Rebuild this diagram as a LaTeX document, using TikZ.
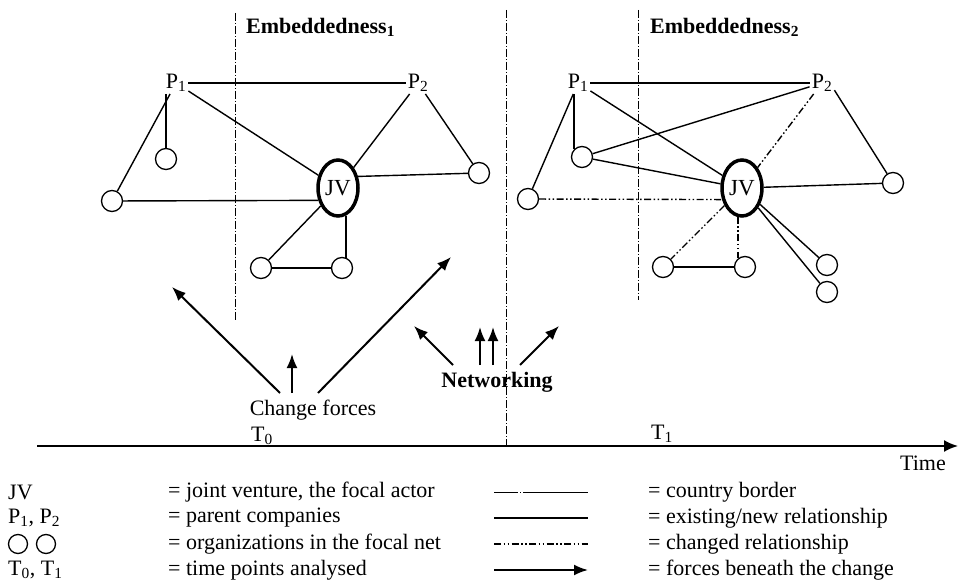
\documentclass[tikz,border=0pt]{standalone}
\usepackage{fontspec}
\setmainfont{Liberation Serif}
\usetikzlibrary{arrows.meta,shapes.geometric}

\begin{document}
\begin{tikzpicture}[x=1pt,y=-1pt,
  every node/.style={font=\fontsize{22}{24}\selectfont, inner sep=0pt},
  org/.style={circle, draw, line width=1.3pt, minimum size=21pt},
  legorg/.style={circle, draw, line width=1.3pt, minimum size=19pt},
  focal/.style={ellipse, draw, line width=3.5pt, minimum width=40pt, minimum height=56pt,
    font=\fontsize{23}{24}\selectfont},
  parent/.style={inner sep=2pt},
  rel/.style={line width=1.4pt},
  chg/.style={line width=1.4pt, dash pattern=on 7pt off 2.5pt on 1.5pt off 2.5pt on 1.5pt off 2.5pt},
  border/.style={line width=0.8pt, dash pattern=on 8pt off 2pt on 1pt off 2pt},
  force/.style={line width=2pt, -{Latex[length=14pt,width=11pt]}},
  leftlbl/.style={anchor=west},
]
\useasboundingbox (0,0) rectangle (959,588);

% ---------- country borders ----------
\coordinate (b1t) at (235,13);  \coordinate (b1b) at (235,320);
\coordinate (b2t) at (506,10);  \coordinate (b2b) at (506,445);
\coordinate (b3t) at (638,10);  \coordinate (b3b) at (638,300);
\draw[border] (b1t) -- (b1b);
\draw[border] (b2t) -- (b2b);
\draw[border] (b3t) -- (b3b);

% ---------- headings ----------
\node[leftlbl, font=\fontsize{22}{24}\selectfont\bfseries] (emb1) at (246,27) {Embeddedness\textsubscript{1}};
\node[leftlbl, font=\fontsize{22}{24}\selectfont\bfseries] (emb2) at (650,27) {Embeddedness\textsubscript{2}};

% ---------- first net (T0) ----------
\node[parent] (P1L) at (176,83) {P\textsubscript{1}};
\node[parent] (P2L) at (418,83) {P\textsubscript{2}};
\node[focal]  (JVL) at (338,188) {JV};
\node[org] (c1) at (166,159) {};
\node[org] (c2) at (112,201) {};
\node[org] (c3) at (479,173) {};
\node[org] (c4) at (261,268) {};
\node[org] (c5) at (342,268) {};

\draw[rel] (P1L) -- (P2L);
\draw[rel] (P1L) -- (c2);
\draw[rel] (c1.north |- P1L.south) -- (c1.north);
\draw[rel] (P1L) -- (JVL);
\draw[rel] (P2L) -- (JVL);
\draw[rel] (P2L) -- (c3);
\draw[rel] (c2) -- (JVL.212);
\draw[rel] (JVL.30) -- (c3);
\draw[rel] (JVL) -- (c4);
\draw[rel] (c5.70 |- JVL.-75) -- (c5.70);
\draw[rel] (c4) -- (c5);

% ---------- second net (T1) ----------
\node[parent] (P1R) at (578,83) {P\textsubscript{1}};
\node[parent] (P2R) at (822,83) {P\textsubscript{2}};
\node[focal]  (JVR) at (742,188) {JV};
\node[org] (d1) at (582,157) {};
\node[org] (d2) at (528,199) {};
\node[org] (d3) at (893,183) {};
\node[org] (d4) at (663,267) {};
\node[org] (d5) at (745,267) {};
\node[org] (d6) at (827,265) {};
\node[org] (d7) at (827,292) {};

\draw[rel] (P1R) -- (P2R);
\draw[rel] (P1R) -- (d2);
\draw[rel] (d1.135 |- P1R.south) -- (d1.135);
\draw[rel] (P1R) -- (JVR);
\draw[rel] (P2R) -- (d1);
\draw[rel] (d1) -- (JVR);
\draw[chg] (P2R) -- (JVR);
\draw[rel] (P2R.-30) -- (d3);
\draw[chg] (d2) -- (JVR.210);
\draw[rel] (JVR) -- (d3);
\draw[chg] (JVR) -- (d4);
\draw[chg] (d5.130 |- JVR.-100) -- (d5.130);
\draw[rel] (d4) -- (d5);
\draw[rel] (JVR) -- (d6);
\draw[rel] (JVR) -- (d7);

% ---------- forces ----------
\node (cf) at (313,410) {Change forces};
\node[font=\fontsize{22}{24}\selectfont\bfseries] (nw) at (497,382) {Networking};

\coordinate (f1s) at (280,393); \coordinate (f1e) at (172,287);
\coordinate (f2s) at (292,393); \coordinate (f2e) at (292,354);
\coordinate (f3s) at (318,393); \coordinate (f3e) at (451,257);
\draw[force] (f1s) -- (f1e);
\draw[force] (f2s) -- (f2e);
\draw[force] (f3s) -- (f3e);

\coordinate (n1s) at (453,365); \coordinate (n1e) at (414,326);
\coordinate (n2s) at (480,365); \coordinate (n2e) at (480,327);
\coordinate (n3s) at (493,365); \coordinate (n3e) at (493,327);
\coordinate (n4s) at (520,365); \coordinate (n4e) at (559,326);
\draw[force] (n1s) -- (n1e);
\draw[force] (n2s) -- (n2e);
\draw[force] (n3s) -- (n3e);
\draw[force] (n4s) -- (n4e);

% ---------- time axis ----------
\coordinate (ts) at (37,446);
\coordinate (te) at (958,446);
\draw[line width=2pt, -{Latex[length=14pt,width=12pt]}] (ts) -- (te);
\node (T0) at (262,436) {T\textsubscript{0}};
\node (T1) at (662,434) {T\textsubscript{1}};
\node[anchor=east] (time) at (946,463) {Time};

% ---------- legend ----------
\node[leftlbl] (kJV) at (8,492) {JV};
\node[leftlbl] (kP)  at (8,518) {P\textsubscript{1}, P\textsubscript{2}};
\node[legorg] (ko1) at (18,544) {};
\node[legorg] (ko2) at (46,544) {};
\node[leftlbl] (kT)  at (8,570) {T\textsubscript{0}, T\textsubscript{1}};

\node[leftlbl] (dJV) at (168,492) {= joint venture, the focal actor};
\node[leftlbl] (dP)  at (168,518) {= parent companies};
\node[leftlbl] (dO)  at (168,544) {= organizations in the focal net};
\node[leftlbl] (dT)  at (168,570) {= time points analysed};

\coordinate (l1a) at (494,492); \coordinate (l1b) at (588,492);
\coordinate (l2a) at (494,518); \coordinate (l2b) at (588,518);
\coordinate (l3a) at (494,544); \coordinate (l3b) at (588,544);
\coordinate (l4a) at (494,570); \coordinate (l4b) at (588,570);
\draw[line width=0.9pt, dash pattern=on 24pt off 2pt on 1pt off 2pt on 65pt off 0pt] (l1a) -- (l1b);
\draw[rel] (l2a) -- (l2b);
\draw[chg] (l3a) -- (l3b);
\draw[force] (l4a) -- (l4b);

\node[leftlbl] (dB) at (648,492) {= country border};
\node[leftlbl] (dR) at (648,518) {= existing/new relationship};
\node[leftlbl] (dC) at (648,544) {= changed relationship};
\node[leftlbl] (dF) at (648,570) {= forces beneath the change};
\end{tikzpicture}
\end{document}
